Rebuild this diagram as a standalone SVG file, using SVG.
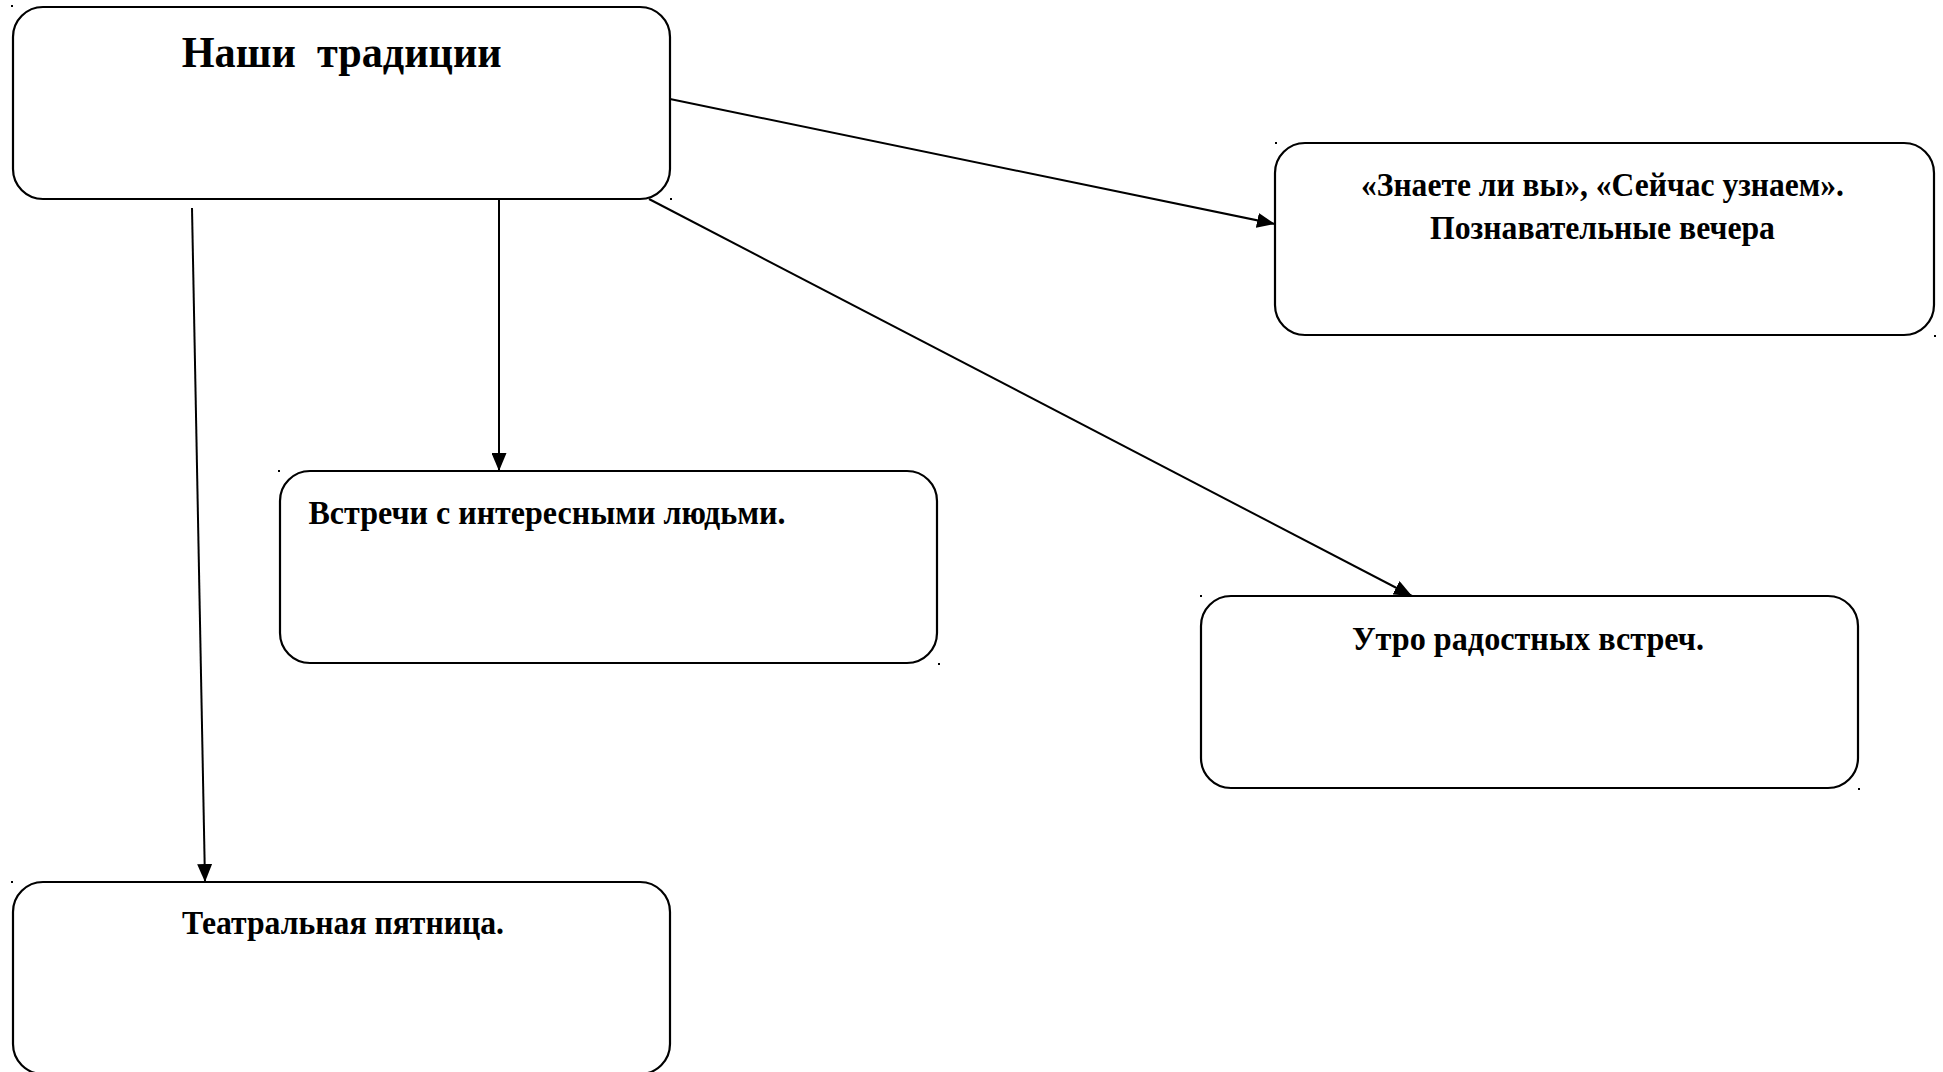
<svg xmlns="http://www.w3.org/2000/svg" width="1943" height="1072" viewBox="0 0 1943 1072">
<defs>
<style>
.box{fill:#fff;stroke:#000;stroke-width:2.2}
.t{font-family:"Liberation Serif","Times New Roman",serif;font-weight:bold;fill:#000}
.s{font-size:34px}
.big{font-size:44px}
.c{stroke:#000;stroke-width:2;fill:none}
.dot{fill:#000}
</style>
<marker id="ah" markerUnits="userSpaceOnUse" markerWidth="18" markerHeight="15" refX="18" refY="7.5" orient="auto">
<path d="M0,0 L18,7.5 L0,15 Z" fill="#000"/>
</marker>
</defs>
<rect width="1943" height="1072" fill="#fff"/>
<g id="connectors">
<line class="c" x1="670" y1="99" x2="1275" y2="224" marker-end="url(#ah)"/>
<line class="c" x1="499" y1="199" x2="499" y2="471" marker-end="url(#ah)"/>
<line class="c" x1="649" y1="199" x2="1412" y2="596" marker-end="url(#ah)"/>
<line class="c" x1="192" y1="208" x2="205" y2="882" marker-end="url(#ah)"/>
</g>
<g id="node-traditions">
<rect class="box" x="13" y="7" width="657" height="192" rx="30" ry="30"/>
<text class="t big" x="181.7" y="67" textLength="320" lengthAdjust="spacingAndGlyphs" xml:space="preserve">Наши  традиции</text>
<rect class="dot" x="11" y="5" width="2" height="2"/>
<rect class="dot" x="670" y="198" width="2" height="2"/>
</g>
<g id="node-evenings">
<rect class="box" x="1275" y="143" width="659" height="192" rx="30" ry="30"/>
<text class="t s" x="1361" y="196" textLength="483" lengthAdjust="spacingAndGlyphs">«Знаете ли вы», «Сейчас узнаем».</text>
<text class="t s" x="1430" y="239" textLength="345" lengthAdjust="spacingAndGlyphs">Познавательные вечера</text>
<rect class="dot" x="1275" y="142" width="2" height="2"/>
<rect class="dot" x="1934" y="335" width="2" height="2"/>
</g>
<g id="node-meetings">
<rect class="box" x="280" y="471" width="657" height="192" rx="30" ry="30"/>
<text class="t s" x="308.5" y="524" textLength="477" lengthAdjust="spacingAndGlyphs">Встречи с интересными людьми.</text>
<rect class="dot" x="278" y="470" width="2" height="2"/>
<rect class="dot" x="938" y="663" width="2" height="2"/>
</g>
<g id="node-morning">
<rect class="box" x="1201" y="596" width="657" height="192" rx="30" ry="30"/>
<text class="t s" x="1352" y="650" textLength="352" lengthAdjust="spacingAndGlyphs">Утро радостных встреч.</text>
<rect class="dot" x="1200" y="595" width="2" height="2"/>
<rect class="dot" x="1858" y="788" width="2" height="2"/>
</g>
<g id="node-theatre">
<rect class="box" x="13" y="882" width="657" height="192" rx="30" ry="30"/>
<text class="t s" x="182" y="934" textLength="322" lengthAdjust="spacingAndGlyphs">Театральная пятница.</text>
<rect class="dot" x="11" y="881" width="2" height="2"/>
</g>
</svg>
